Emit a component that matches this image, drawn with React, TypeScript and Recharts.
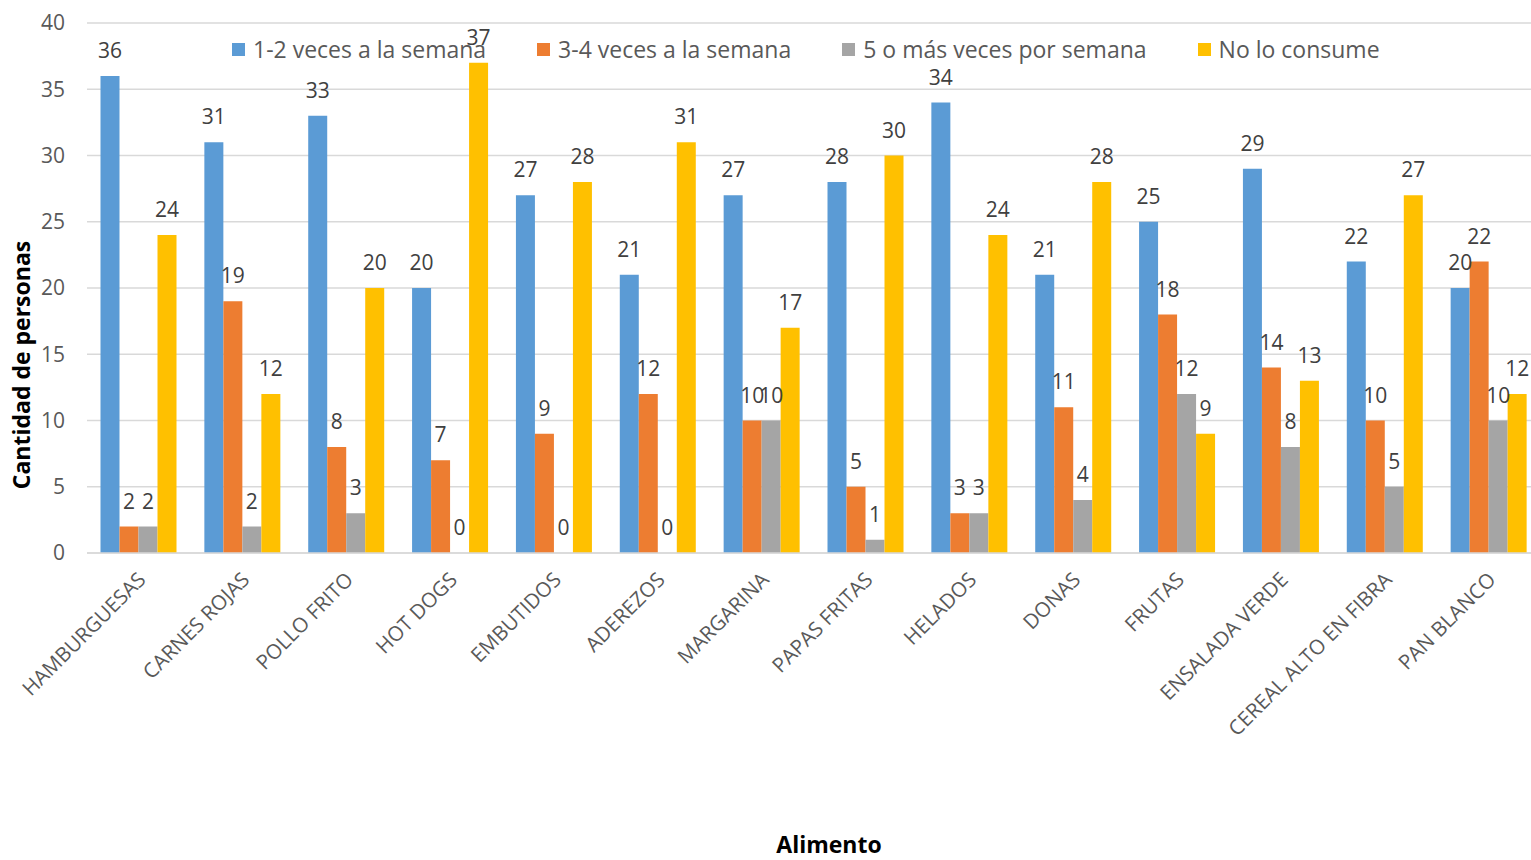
import React from 'react';
import { BarChart, Bar, XAxis, YAxis, CartesianGrid, Legend, LabelList, Label } from 'recharts';

const categories = ['HAMBURGUESAS', 'CARNES ROJAS', 'POLLO FRITO', 'HOT DOGS', 'EMBUTIDOS', 'ADEREZOS', 'MARGARINA', 'PAPAS FRITAS', 'HELADOS', 'DONAS', 'FRUTAS', 'ENSALADA VERDE', 'CEREAL ALTO EN FIBRA', 'PAN BLANCO'];
const s12 = [36, 31, 33, 20, 27, 21, 27, 28, 34, 21, 25, 29, 22, 20];
const s34 = [2, 19, 8, 7, 9, 12, 10, 5, 3, 11, 18, 14, 10, 22];
const s5 = [2, 2, 3, 0, 0, 0, 10, 1, 3, 4, 12, 8, 5, 10];
const sNo = [24, 12, 20, 37, 28, 31, 17, 30, 24, 28, 9, 13, 27, 12];
const seriesNames = ['1-2 veces a la semana', '3-4 veces a la semana', '5 o más veces por semana', 'No lo consume'];
const yTicks = [0, 5, 10, 15, 20, 25, 30, 35, 40];

const colors = ['#5B9BD5', '#ED7D31', '#A5A5A5', '#FFC000'];
const FONT = '"Open Sans", sans-serif';

const data = categories.map((c, i) => ({ name: c, a: s12[i], b: s34[i], c: s5[i], d: sNo[i] }));

const CatTick = (props: any) => {
  const { x, y, payload } = props;
  const tx = x + 8;
  const ty = y + 28;
  return (
    <text x={tx} y={ty} transform={`rotate(-45, ${tx}, ${ty})`} textAnchor="end" fill="#595959" fontSize={20.5} fontFamily={FONT}>
      {payload.value}
    </text>
  );
};

const ValueLabel = (props: any) => {
  const vb = props.viewBox || {};
  const x = vb.x ?? props.x;
  const y = vb.y ?? props.y;
  const w = vb.width ?? props.width ?? 0;
  const h = vb.height ?? props.height ?? 0;
  const top = Math.min(y, y + h);
  return (
    <text x={x + w / 2} y={top - 18} textAnchor="middle" fill="#404040" fontSize={21} fontFamily={FONT}>
      {props.value}
    </text>
  );
};

const LegendContent = (props: any) => {
  const { payload } = props;
  return (
    <div style={{ display: 'flex', flexDirection: 'row', alignItems: 'center', fontFamily: FONT, fontSize: 23, color: '#595959', whiteSpace: 'nowrap' }}>
      {(payload || []).map((p: any, i: number) => (
        <div key={i} style={{ display: 'flex', alignItems: 'center', marginRight: 51 }}>
          <span style={{ display: 'inline-block', width: 13, height: 13, background: p.color, marginRight: 8 }} />
          <span>{p.value}</span>
        </div>
      ))}
    </div>
  );
};

export default function App() {
  return (
    <div style={{ position: 'absolute', left: 0, top: 0, width: 1531, height: 860, background: '#fff', overflow: 'hidden' }}>
      <BarChart
        width={1541}
        height={860}
        data={data}
        margin={{ top: 23, right: 0, bottom: 0, left: 0 }}
        barCategoryGap="13%"
        barGap={0}
      >
        <CartesianGrid vertical={false} stroke="#D9D9D9" strokeWidth={1.5} />
        <XAxis
          dataKey="name"
          height={307}
          interval={0}
          tickLine={false}
          tickSize={0}
          tickMargin={0}
          axisLine={{ stroke: '#D9D9D9', strokeWidth: 1.5 }}
          tick={<CatTick />}
        >
          <Label
            content={() => (
              <text x={829} y={853} textAnchor="middle" fontFamily={FONT} fontWeight="bold" fontSize={23} fill="#000">
                Alimento
              </text>
            )}
          />
        </XAxis>
        <YAxis
          width={87}
          domain={[0, 40]}
          ticks={yTicks}
          interval={0}
          axisLine={false}
          tickLine={false}
          tickSize={0}
          tickMargin={22}
          tick={{ fill: '#595959', fontSize: 21, fontFamily: FONT }}
        >
          <Label
            content={() => (
              <text x={30} y={365} transform="rotate(-90, 30, 365)" textAnchor="middle" fontFamily={FONT} fontWeight="bold" fontSize={23} fill="#000">
                Cantidad de personas
              </text>
            )}
          />
        </YAxis>
        <Legend
          layout="horizontal"
          verticalAlign="middle"
          align="center"
          wrapperStyle={{ top: 33, left: 232, width: 'auto' }}
          content={<LegendContent />}
        />
        {(['a', 'b', 'c', 'd'] as const).map((k, i) => (
          <Bar key={k} dataKey={k} name={seriesNames[i]} fill={colors[i]} isAnimationActive={false} minPointSize={0.001}>
            <LabelList dataKey={k} content={<ValueLabel />} />
          </Bar>
        ))}
      </BarChart>
    </div>
  );
}
